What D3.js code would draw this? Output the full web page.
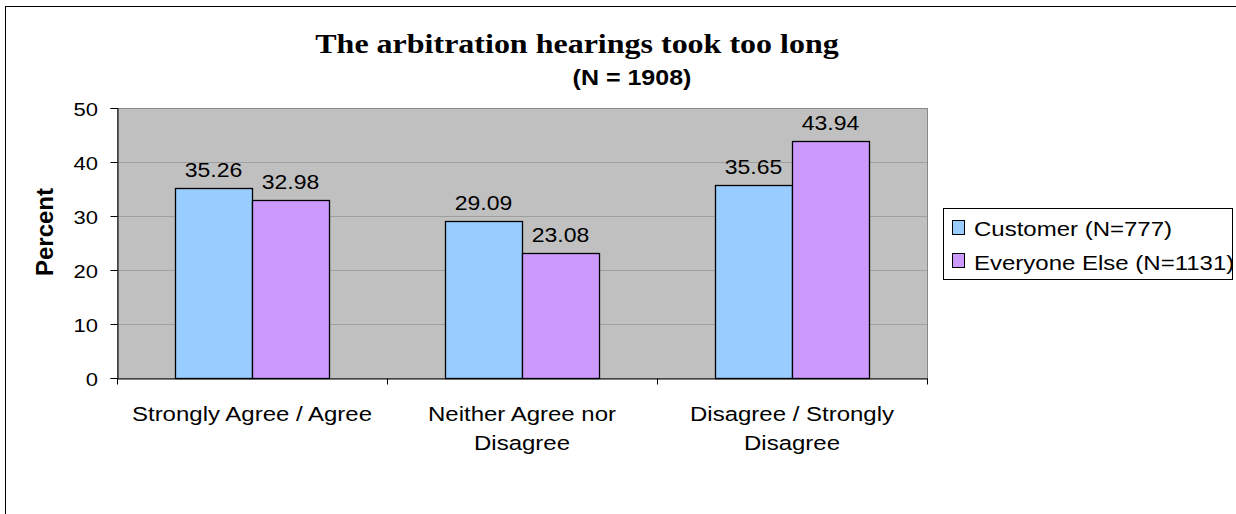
<!DOCTYPE html>
<html>
<head>
<meta charset="utf-8">
<script src="https://cdn.jsdelivr.net/npm/d3@7"></script>
<style>
  body { margin: 0; background: #fff; }
  svg { display: block; }
</style>
</head>
<body>
<svg id="chart" width="1236" height="514"></svg>
<script>
// data
var categories = ["Strongly Agree / Agree", "Neither Agree nor Disagree", "Disagree / Strongly Disagree"];
var categoryLines = [["Strongly Agree / Agree"], ["Neither Agree nor", "Disagree"], ["Disagree / Strongly", "Disagree"]];
var seriesNames = ["Customer (N=777)", "Everyone Else (N=1131)"];
var customer = [35.26, 29.09, 35.65];
var everyoneElse = [32.98, 23.08, 43.94];
var yTicks = [0, 10, 20, 30, 40, 50];
var colors = ["#99ccff", "#cc99ff"];

var svg = d3.select("#chart");
var pLeft = 117, pRight = 927, pTop = 108, pBottom = 378;
var sans = "Liberation Sans, Arial, sans-serif";
var squash = 0.87; // text in the picture is a bit flatter than normal

// puts a text at x,y with the flattened look
function label(parent, xPos, yPos, txt, size, anchor, weight, family) {
  return parent.append("text")
    .attr("transform", "translate(" + xPos + "," + yPos + ") scale(1," + squash + ")")
    .attr("text-anchor", anchor || "middle")
    .attr("font-family", family || sans)
    .attr("font-weight", weight || "normal")
    .attr("font-size", size)
    .attr("fill", "#000")
    .text(txt);
}

// outer chart border
svg.append("rect")
   .attr("x", 5.5).attr("y", 6.5)
   .attr("width", 1240).attr("height", 520)
   .attr("fill", "none").attr("stroke", "#000").attr("stroke-width", 1);

var x = d3.scaleBand().domain(categories).range([pLeft, pRight]);
var barW = 77;
var xs = d3.scaleBand().domain(seriesNames).range([0, x.bandwidth()])
   .paddingInner(0).paddingOuter((x.bandwidth() - 2 * barW) / 2 / barW);
var y = d3.scaleLinear().domain([0, 50]).range([pBottom, pTop]);

// plot background
svg.append("rect")
   .attr("x", pLeft + 0.5).attr("y", pTop + 0.5)
   .attr("width", pRight - pLeft).attr("height", pBottom - pTop)
   .attr("fill", "#c0c0c0").attr("stroke", "#888").attr("stroke-width", 1);

// gridlines
svg.append("g").selectAll("line")
   .data(yTicks.filter(function(d) { return d > 0 && d < 50; }))
   .enter().append("line")
   .attr("x1", pLeft).attr("x2", pRight)
   .attr("y1", function(d) { return Math.round(y(d)) + 0.5; })
   .attr("y2", function(d) { return Math.round(y(d)) + 0.5; })
   .attr("stroke", "#a0a0a0").attr("stroke-width", 1);

// bars
var rows = categories.map(function(c, i) {
  return [{ s: seriesNames[0], v: customer[i] }, { s: seriesNames[1], v: everyoneElse[i] }];
});
var groups = svg.append("g").selectAll("g")
   .data(rows).enter().append("g")
   .attr("transform", function(d, i) { return "translate(" + Math.round(x(categories[i])) + ",0)"; });

groups.selectAll("rect")
   .data(function(d) { return d; })
   .enter().append("rect")
   .attr("x", function(d) { return Math.round(xs(d.s)) + 0.5; })
   .attr("y", function(d) { return Math.round(y(d.v)) + 0.5; })
   .attr("width", xs.bandwidth())
   .attr("height", function(d) { return pBottom - Math.round(y(d.v)); })
   .attr("fill", function(d, i) { return colors[i]; })
   .attr("stroke", "#000").attr("stroke-width", 1.3);

groups.each(function(d) {
  var g = d3.select(this);
  d.forEach(function(b) {
    label(g, xs(b.s) + xs.bandwidth() / 2, y(b.v) - 11, b.v.toFixed(2), 23);
  });
});

// y axis
var yAxis = svg.append("g")
   .attr("transform", "translate(" + (pLeft + 0.5) + ",0)")
   .call(d3.axisLeft(y).tickValues(yTicks).tickSize(7).tickFormat(""));
yAxis.select(".domain").attr("stroke", "#000");
yAxis.selectAll(".tick line").attr("stroke", "#000");
yTicks.forEach(function(t) {
  label(svg, 98, y(t) + 8, t, 22, "end");
});

// x axis
var xAxis = svg.append("g")
   .attr("transform", "translate(0," + (pBottom + 0.5) + ")")
   .call(d3.axisBottom(x).tickValues([]).tickSizeOuter(0));
xAxis.select(".domain").attr("stroke", "#000");
xAxis.selectAll(".cat-tick")
   .data(d3.range(categories.length + 1))
   .enter().append("line")
   .attr("x1", function(i) { return Math.round(pLeft + i * x.step()) + 0.5; })
   .attr("x2", function(i) { return Math.round(pLeft + i * x.step()) + 0.5; })
   .attr("y1", 0).attr("y2", 6)
   .attr("stroke", "#000");

categories.forEach(function(c, i) {
  categoryLines[i].forEach(function(line, j) {
    label(svg, x(c) + x.bandwidth() / 2, 421 + j * 29, line, 24);
  });
});

// titles
label(svg, 577, 53, "The arbitration hearings took too long", 32, "middle", "bold",
      "Liberation Serif, Times New Roman, serif");
label(svg, 632, 85, "(N = 1908)", 25, "middle", "bold");
svg.append("text")
   .attr("transform", "translate(53,232) rotate(-90)")
   .attr("text-anchor", "middle")
   .attr("font-family", sans)
   .attr("font-weight", "bold").attr("font-size", 24)
   .text("Percent");

// legend
var legend = svg.append("g");
legend.append("rect")
   .attr("x", 943.5).attr("y", 208.5).attr("width", 289).attr("height", 71)
   .attr("fill", "#fff").attr("stroke", "#000");
seriesNames.forEach(function(name, i) {
  legend.append("rect")
     .attr("x", 952.5).attr("y", 220.5 + i * 33).attr("width", 12).attr("height", 14)
     .attr("fill", colors[i]).attr("stroke", "#000");
  label(legend, 974, 236 + i * 34, name, 24, "start");
});
</script>
</body>
</html>
